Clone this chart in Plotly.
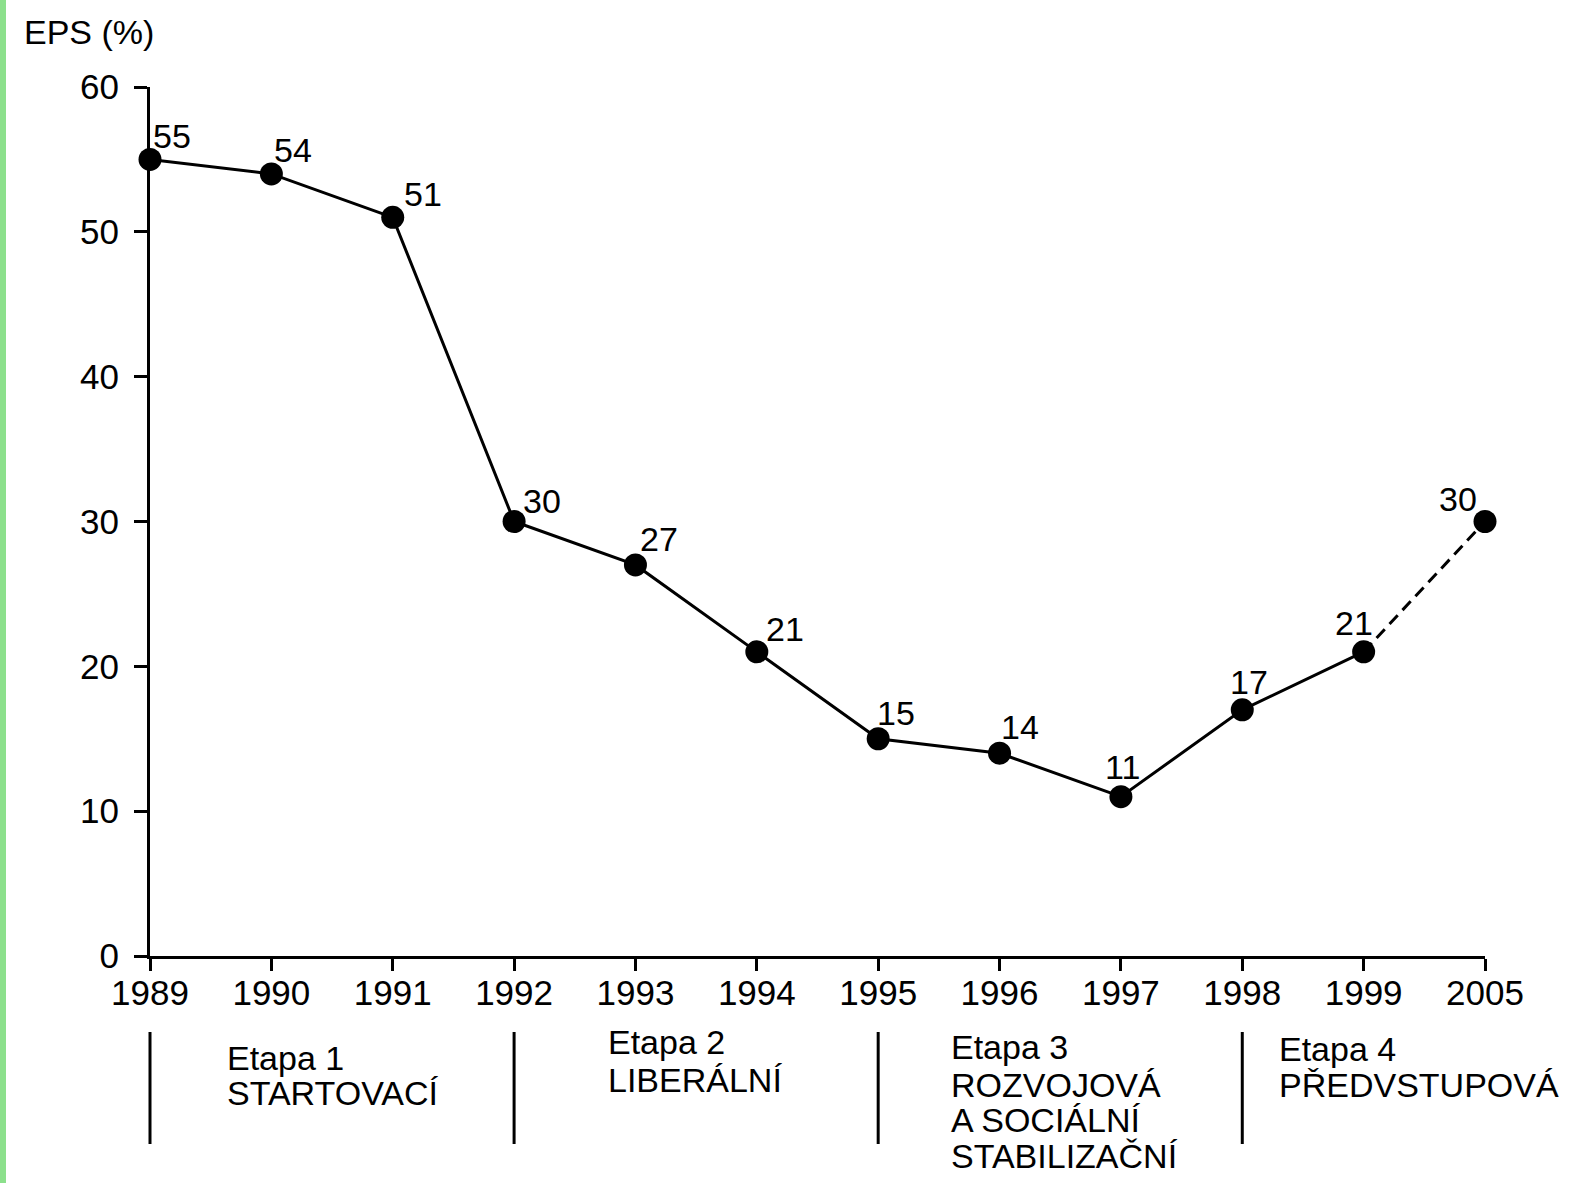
import plotly.graph_objects as go

years = ["1989", "1990", "1991", "1992", "1993", "1994", "1995", "1996", "1997", "1998", "1999", "2005"]
eps = [55, 54, 51, 30, 27, 21, 15, 14, 11, 17, 21, 30]
y_ticks = [0, 10, 20, 30, 40, 50, 60]
y_title = "EPS (%)"

stage_starts = ["1989", "1992", "1995", "1998"]
stage_lines = [
    ["Etapa 1", "STARTOVACÍ"],
    ["Etapa 2", "LIBERÁLNÍ"],
    ["Etapa 3", "ROZVOJOVÁ", "A SOCIÁLNÍ", "STABILIZAČNÍ"],
    ["Etapa 4", "PŘEDVSTUPOVÁ"],
]

# style / layout constants
FONT = "Liberation Sans, Arial, sans-serif"
FS = 34
FT = 35
L, R, T, B = 150, 102, 87, 227
W, H = 1587, 1183
PH = H - T - B
PW = W - L - R

def py(pix):
    return (H - B - pix) / PH

def px(pix):
    return (pix - L) / PW

xi = list(range(len(years)))
pos = {yr: i for i, yr in enumerate(years)}
x_range = [0, len(years) - 1]

label_shift = [(22, 23), (22, 24), (30, 23), (28, 21), (24, 26), (28, 23),
               (18, 26), (20, 26), (2, 30), (7, 28), (-10, 29), (-27, 23)]
stage_xshift = [75, 92, 71, 35]
stage_line_y = [[1058, 1093], [1042, 1080], [1047, 1085, 1120, 1156], [1049, 1085]]

fig = go.Figure()

fig.add_trace(go.Scatter(
    x=xi[:-1], y=eps[:-1], mode="lines",
    line=dict(color="black", width=3), cliponaxis=False, hoverinfo="skip",
))
fig.add_trace(go.Scatter(
    x=xi[-2:], y=eps[-2:], mode="lines",
    line=dict(color="black", width=3, dash="12px,7px"), cliponaxis=False, hoverinfo="skip",
))
fig.add_trace(go.Scatter(
    x=xi, y=eps, mode="markers",
    marker=dict(color="black", size=23), cliponaxis=False,
))

annotations = []
for i, v, (dx, dy) in zip(xi, eps, label_shift):
    annotations.append(dict(
        x=i, y=v, xref="x", yref="y", text=str(v), showarrow=False,
        xshift=dx, yshift=dy, font=dict(family=FONT, size=FS, color="black"),
    ))

annotations.append(dict(
    x=px(22), y=py(32), xref="paper", yref="paper", text=y_title, showarrow=False,
    xanchor="left", yanchor="middle", font=dict(family=FONT, size=FS, color="black"),
))

shapes = []
for start, lines, xs, ys in zip(stage_starts, stage_lines, stage_xshift, stage_line_y):
    sx = pos[start]
    sx_paper = (sx - x_range[0]) / (x_range[1] - x_range[0])
    shapes.append(dict(type="line", xref="paper", yref="paper", x0=sx_paper, x1=sx_paper,
                       y0=py(1032), y1=py(1144), line=dict(color="black", width=3)))
    for line_text, yy in zip(lines, ys):
        annotations.append(dict(
            x=sx, y=py(yy), xref="x", yref="paper", text=line_text, showarrow=False,
            xanchor="left", yanchor="middle", xshift=xs,
            font=dict(family=FONT, size=FS, color="black"),
        ))

# green strip at the left edge
shapes.append(dict(type="rect", xref="paper", yref="paper",
                   x0=px(0), x1=px(6), y0=py(H), y1=py(0),
                   fillcolor="#8ce08c", line=dict(width=0), layer="below"))

fig.update_layout(
    width=W, height=H,
    margin=dict(l=L, r=R, t=T, b=B),
    plot_bgcolor="white", paper_bgcolor="white",
    showlegend=False,
    font=dict(family=FONT, size=FS, color="black"),
    annotations=annotations,
    shapes=shapes,
    xaxis=dict(
        range=x_range, tickvals=xi, ticktext=years,
        showline=True, linecolor="black", linewidth=3,
        ticks="outside", ticklen=12, tickwidth=2.5, tickcolor="black",
        showgrid=False, zeroline=False,
        tickfont=dict(family=FONT, size=FT, color="black"),
        ticklabelstandoff=-8,
    ),
    yaxis=dict(
        range=[0, 60], tickvals=y_ticks,
        showline=True, linecolor="black", linewidth=3,
        ticks="outside", ticklen=13, tickwidth=2.5, tickcolor="black",
        showgrid=False, zeroline=False,
        tickfont=dict(family=FONT, size=FT, color="black"),
        ticklabelstandoff=8,
    ),
)

fig.write_html("out.html", config={"displayModeBar": False},
               post_script="document.body.style.margin='0';")
